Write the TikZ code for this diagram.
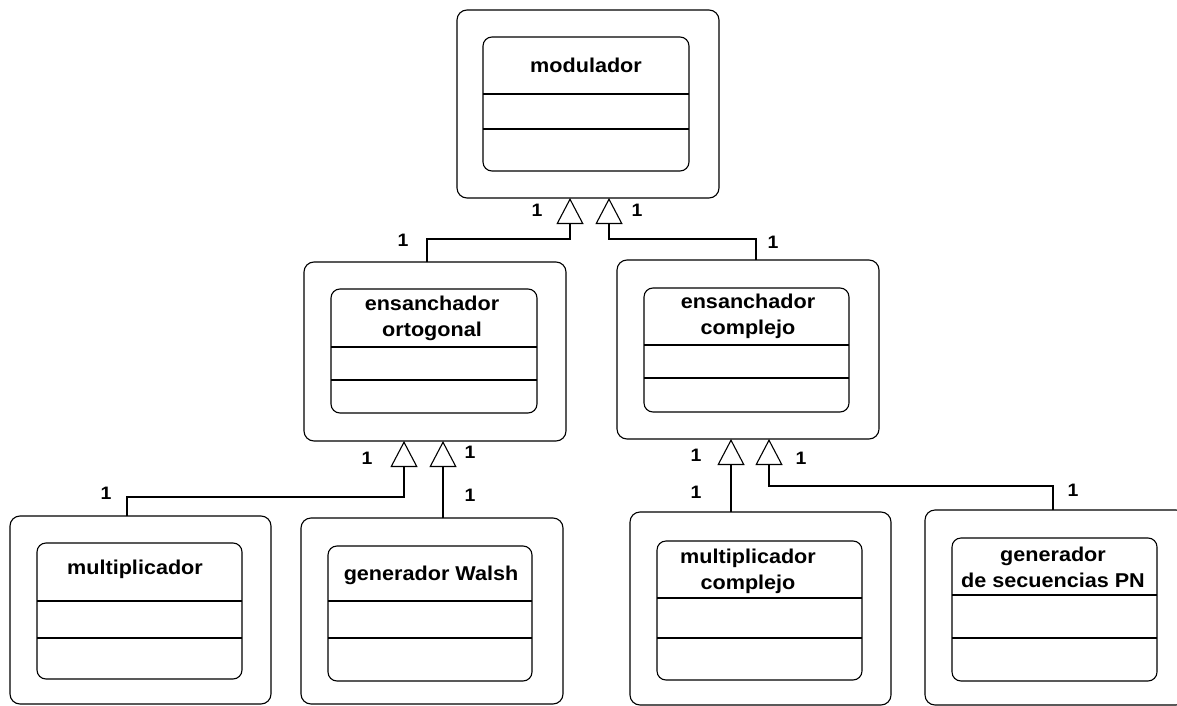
\documentclass[tikz,border=0pt]{standalone}
\usepackage{fontspec}
\newfontfamily\umlfont{Liberation Sans}[FakeStretch=1.08]
\usetikzlibrary{arrows.meta}
\begin{document}
\begin{tikzpicture}[x=1pt,y=-1pt,
  outerbox/.style={draw, line width=1.1pt, rounded corners=10pt, inner sep=0pt, outer sep=0pt},
  innerbox/.style={draw, line width=1.1pt, rounded corners=9pt, inner sep=0pt, outer sep=0pt},
  title/.style={font=\umlfont\bfseries\fontsize{20}{26}\selectfont, align=center, inner sep=0pt},
  mult/.style={font=\umlfont\bfseries\fontsize{18}{20}\selectfont, inner sep=0pt},
  sepline/.style={line width=1.1pt},
  inherit/.style={line width=1.1pt, -{Triangle[open, length=26pt, width=27pt, line width=1.1pt]}},
]
\useasboundingbox (0,0) rectangle (1177,706);
\clip (0,0) rectangle (1177,706);
\fill[white] (0,0) rectangle (1177,706);

% x positions of the connector ends
\coordinate (x127) at (127,0);
\coordinate (x404) at (404,0);
\coordinate (x427) at (427,0);
\coordinate (x443) at (443,0);
\coordinate (x570) at (570,0);
\coordinate (x609) at (609,0);
\coordinate (x731) at (731,0);
\coordinate (x756) at (756,0);
\coordinate (x769) at (769,0);
\coordinate (x1053) at (1053,0);

% modulador
\node[outerbox, minimum width=262pt, minimum height=188pt] (mod) at (588,104) {};
\node[innerbox, minimum width=206pt, minimum height=134pt] (modin) at (586,104) {};
\draw[sepline] (modin.west |- 0,94) -- (modin.east |- 0,94);
\draw[sepline] (modin.west |- 0,129) -- (modin.east |- 0,129);
\node[title] (modt) at (586,65) {modulador};

% ensanchador ortogonal
\node[outerbox, minimum width=262pt, minimum height=179pt] (ort) at (435,351.5) {};
\node[innerbox, minimum width=206pt, minimum height=124pt] (ortin) at (434,351) {};
\draw[sepline] (ortin.west |- 0,347) -- (ortin.east |- 0,347);
\draw[sepline] (ortin.west |- 0,380) -- (ortin.east |- 0,380);
\node[title] (ortt) at (432,318) {ensanchador\\ortogonal};

% ensanchador complejo
\node[outerbox, minimum width=262pt, minimum height=179pt] (ecx) at (748,349.5) {};
\node[innerbox, minimum width=205pt, minimum height=124pt] (ecxin) at (746.5,350) {};
\draw[sepline] (ecxin.west |- 0,345) -- (ecxin.east |- 0,345);
\draw[sepline] (ecxin.west |- 0,378) -- (ecxin.east |- 0,378);
\node[title] (ecxt) at (748,316) {ensanchador\\complejo};

% multiplicador
\node[outerbox, minimum width=261pt, minimum height=188pt] (mul) at (140.5,610) {};
\node[innerbox, minimum width=205pt, minimum height=136pt] (mulin) at (139.5,611) {};
\draw[sepline] (mulin.west |- 0,601) -- (mulin.east |- 0,601);
\draw[sepline] (mulin.west |- 0,638) -- (mulin.east |- 0,638);
\node[title] (mult) at (135,569) {multiplicador};

% generador Walsh
\node[outerbox, minimum width=262pt, minimum height=186pt] (wal) at (432,611) {};
\node[innerbox, minimum width=204pt, minimum height=135pt] (walin) at (430,613.5) {};
\draw[sepline] (walin.west |- 0,601) -- (walin.east |- 0,601);
\draw[sepline] (walin.west |- 0,638) -- (walin.east |- 0,638);
\node[title] (walt) at (431,575) {generador Walsh};

% multiplicador complejo
\node[outerbox, minimum width=261pt, minimum height=193pt] (mcx) at (760.5,608.5) {};
\node[innerbox, minimum width=205pt, minimum height=139pt] (mcxin) at (759.5,610.5) {};
\draw[sepline] (mcxin.west |- 0,598) -- (mcxin.east |- 0,598);
\draw[sepline] (mcxin.west |- 0,638) -- (mcxin.east |- 0,638);
\node[title] (mcxt) at (748,571) {multiplicador\\complejo};

% generador de secuencias PN
\node[outerbox, minimum width=261pt, minimum height=195pt] (pn) at (1055.5,607.5) {};
\node[innerbox, minimum width=205pt, minimum height=143pt] (pnin) at (1054.5,609.5) {};
\draw[sepline] (pnin.west |- 0,595) -- (pnin.east |- 0,595);
\draw[sepline] (pnin.west |- 0,638) -- (pnin.east |- 0,638);
\node[title] (pnt) at (1053,567) {generador\\de secuencias PN};

% generalisations
\draw[inherit] (ort.north -| x427) -- ++(0,-23) -| (mod.south -| x570);
\draw[inherit] (ecx.north -| x756) -- ++(0,-21) -| (mod.south -| x609);
\draw[inherit] (mul.north -| x127) -- ++(0,-19) -| (ort.south -| x404);
\draw[inherit] (wal.north -| x443) -- (ort.south -| x443);
\draw[inherit] (mcx.north -| x731) -- (ecx.south -| x731);
\draw[inherit] (pn.north -| x1053) -- ++(0,-24) -| (ecx.south -| x769);

% multiplicities
\node[mult] (m1) at (537,210) {1};
\node[mult] (m2) at (637,210) {1};
\node[mult] (m3) at (403,240) {1};
\node[mult] (m4) at (773,242) {1};
\node[mult] (m5) at (367,458) {1};
\node[mult] (m6) at (470,452) {1};
\node[mult] (m7) at (470,495) {1};
\node[mult] (m8) at (106,493) {1};
\node[mult] (m9) at (696,455) {1};
\node[mult] (m10) at (801,458) {1};
\node[mult] (m11) at (696,492) {1};
\node[mult] (m12) at (1073,490) {1};
\end{tikzpicture}
\end{document}
